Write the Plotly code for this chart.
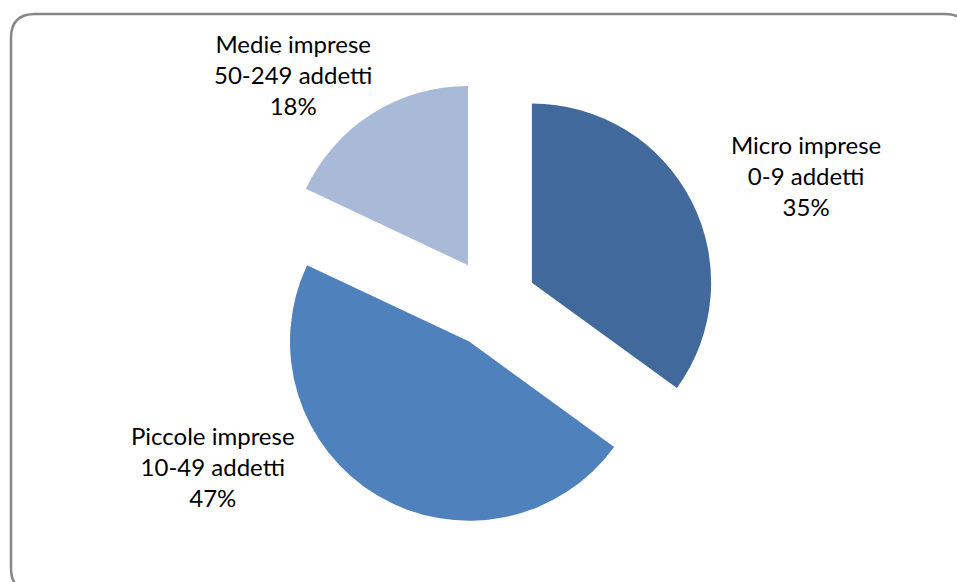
import plotly.graph_objects as go

# Company size classes and their shares (%)
categories = ["Micro imprese", "Piccole imprese", "Medie imprese"]
employee_ranges = ["0-9 addetti", "10-49 addetti", "50-249 addetti"]
shares = [35, 47, 18]
colors = ["#41699B", "#4F81BD", "#A9B9D8"]

W, H = 957, 582

fig = go.Figure()
fig.add_trace(go.Pie(
    labels=categories,
    values=shares,
    sort=False,
    direction="clockwise",
    rotation=0,
    pull=0.25,
    marker=dict(colors=colors, line=dict(width=0)),
    textinfo="none",
    hoverinfo="skip",
    showlegend=False,
    domain=dict(x=[268 / W, 716 / W], y=[1 - 527 / H, 1 - 79 / H]),
))

# Label anchor points (pixels, centre of the block)
label_pos = {
    "Micro imprese": (806, 175),
    "Piccole imprese": (213, 466),
    "Medie imprese": (293, 74),
}
for cat, rng, val in zip(categories, employee_ranges, shares):
    px, py = label_pos[cat]
    fig.add_annotation(
        x=px / W, y=1 - py / H, xref="paper", yref="paper",
        text=f"{cat}<br>{rng}<br>{val}%",
        showarrow=False, align="center",
        xanchor="center", yanchor="middle",
        font=dict(family="Lato, Open Sans, sans-serif", size=24, color="#000000"),
    )

# Rounded chart-area frame
x0, y0, x1, y1, r = 11, 14, 969, 592, 24
def fx(v): return v / W
def fy(v): return 1 - v / H
path = (
    f"M {fx(x0 + r)},{fy(y0)} L {fx(x1 - r)},{fy(y0)} "
    f"Q {fx(x1)},{fy(y0)} {fx(x1)},{fy(y0 + r)} "
    f"L {fx(x1)},{fy(y1 - r)} Q {fx(x1)},{fy(y1)} {fx(x1 - r)},{fy(y1)} "
    f"L {fx(x0 + r)},{fy(y1)} Q {fx(x0)},{fy(y1)} {fx(x0)},{fy(y1 - r)} "
    f"L {fx(x0)},{fy(y0 + r)} Q {fx(x0)},{fy(y0)} {fx(x0 + r)},{fy(y0)} Z"
)
fig.add_shape(type="path", path=path, xref="paper", yref="paper",
              line=dict(color="#888888", width=2.5), fillcolor="rgba(0,0,0,0)")

fig.update_layout(
    width=W, height=H,
    margin=dict(l=0, r=0, t=0, b=0),
    paper_bgcolor="#FFFFFF", plot_bgcolor="#FFFFFF",
)

fig.write_html("out.html", config={"displayModeBar": False})
